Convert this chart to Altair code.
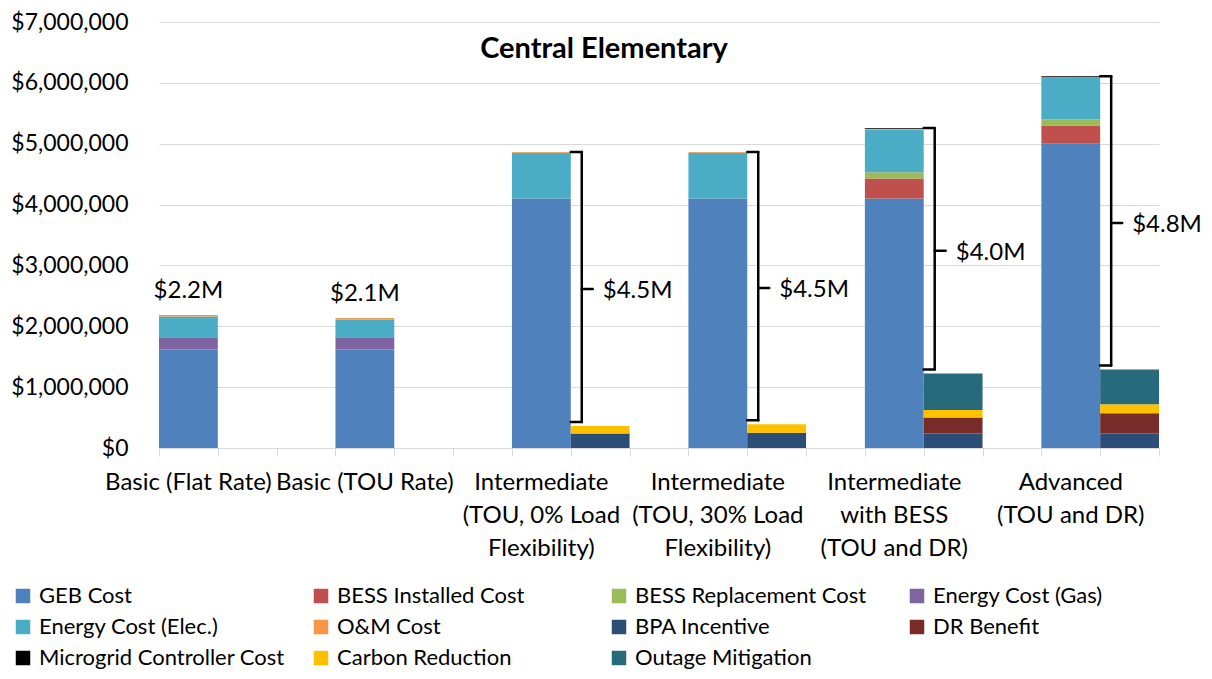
import altair as alt
import pandas as pd

# ---------------- data ----------------
scenarios = [
    "Basic (Flat Rate)",
    "Basic (TOU Rate)",
    "Intermediate\n(TOU, 0% Load\nFlexibility)",
    "Intermediate\n(TOU, 30% Load\nFlexibility)",
    "Intermediate\nwith BESS\n(TOU and DR)",
    "Advanced\n(TOU and DR)",
]

components = [
    "GEB Cost", "BESS Installed Cost", "BESS Replacement Cost", "Energy Cost (Gas)",
    "Energy Cost (Elec.)", "O&M Cost", "BPA Incentive", "DR Benefit",
    "Microgrid Controller Cost", "Carbon Reduction", "Outage Mitigation",
]
component_side = ["cost", "cost", "cost", "cost", "cost", "cost",
                  "benefit", "benefit", "cost", "benefit", "benefit"]
colors = ["#4F81BD", "#C0504D", "#9BBB59", "#8064A2", "#4BACC6", "#F79646",
          "#2C4D75", "#772C2A", "#000000", "#FFC000", "#276A7C"]

geb_cost = [1620000, 1620000, 4100000, 4100000, 4100000, 5000000]
bess_installed = [0, 0, 0, 0, 330000, 300000]
bess_replacement = [0, 0, 0, 0, 100000, 100000]
energy_gas = [200000, 200000, 0, 0, 0, 0]
energy_elec = [340000, 290000, 750000, 750000, 700000, 685000]
om_cost = [25000, 27000, 15000, 15000, 15000, 8000]
bpa_incentive = [0, 0, 240000, 250000, 240000, 240000]
dr_benefit = [0, 0, 0, 0, 260000, 330000]
microgrid_controller = [0, 0, 0, 0, 15000, 15000]
carbon_reduction = [0, 0, 120000, 140000, 125000, 150000]
outage_mitigation = [0, 0, 0, 0, 600000, 570000]

net_labels = ["$2.2M", "$2.1M", "$4.5M", "$4.5M", "$4.0M", "$4.8M"]

chart_title = "Central Elementary"
y_ticks = [0, 1000000, 2000000, 3000000, 4000000, 5000000, 6000000, 7000000]

series = [geb_cost, bess_installed, bess_replacement, energy_gas, energy_elec, om_cost,
          bpa_incentive, dr_benefit, microgrid_controller, carbon_reduction, outage_mitigation]

# ---------------- tables ----------------
n_slots = 3 * len(scenarios) - 1   # cost, benefit, gap per scenario (no trailing gap)

rows = []
for ci, (name, side, vals) in enumerate(zip(components, component_side, series)):
    for g, v in enumerate(vals):
        if v > 0:
            rows.append(dict(scenario=g, component=name, order=ci, value=v,
                             slot=3 * g + (0 if side == "cost" else 1)))
bars_df = pd.DataFrame(rows)

summ = []
for g in range(len(scenarios)):
    cost_total = sum(s[g] for s, side in zip(series, component_side) if side == "cost")
    ben_total = sum(s[g] for s, side in zip(series, component_side) if side == "benefit")
    summ.append(dict(scenario=g, label=net_labels[g], top=cost_total, bottom=ben_total,
                     mid=(cost_total + ben_total) / 2, bx=3 * g + 1, xc=3 * g + 0.5,
                     name=scenarios[g]))
summ_df = pd.DataFrame(summ)
bracket_df = summ_df[summ_df["bottom"] > 0]
toplabel_df = summ_df[summ_df["bottom"] == 0]

FONT = "Lato"
W, H = 1000, 426

xscale = alt.Scale(domain=[0, n_slots], nice=False, zero=False)
yscale = alt.Scale(domain=[0, 7000000], nice=False)

bars = (
    alt.Chart(bars_df)
    .transform_stack(stack="value", groupby=["slot"], as_=["v0", "v1"],
                     sort=[alt.SortField("order", order="ascending")])
    .transform_calculate(slot_end="datum.slot + 1")
    .mark_bar()
    .encode(
        x=alt.X("slot:Q", scale=xscale,
                axis=alt.Axis(values=list(range(n_slots + 1)), labels=False, ticks=True,
                              tickSize=8, tickColor="#D9D9D9", domainColor="#D9D9D9",
                              grid=False, title=None)),
        x2="slot_end:Q",
        y=alt.Y("v0:Q", scale=yscale,
                axis=alt.Axis(values=y_ticks, format="$,.0f", ticks=False, domain=False,
                              labelPadding=31, gridColor="#D9D9D9", gridWidth=1,
                              title=None)),
        y2="v1:Q",
        color=alt.Color(
            "component:N",
            scale=alt.Scale(domain=components, range=colors),
            legend=alt.Legend(
                orient="none", legendX=-147, legendY=563, columns=4, title=None,
                direction="horizontal",
                symbolType="square", symbolSize=210, symbolStrokeWidth=0,
                symbolOpacity=1, labelFont=FONT, labelFontSize=22, labelColor="black",
                labelOffset=5, columnPadding=25, rowPadding=9, gridAlign="all",
                padding=0, labelLimit=500,
            ),
        ),
        order=alt.Order("order:Q"),
    )
)

group_labels = (
    alt.Chart(summ_df)
    .mark_text(align="center", baseline="top", lineBreak="\n", lineHeight=33,
               font=FONT, fontSize=24, color="black")
    .encode(x=alt.X("xc:Q", title=None), y=alt.value(H + 23), text="name:N")
)

top_labels = (
    alt.Chart(toplabel_df)
    .mark_text(align="center", baseline="bottom", dy=-12, font=FONT, fontSize=24,
               color="black")
    .encode(x=alt.X("xc:Q", title=None), y=alt.Y("top:Q", title=None), text="label:N")
)

BR = dict(color="black", strokeWidth=2.5, strokeCap="round")
br_top = alt.Chart(bracket_df).mark_rule(x2Offset=11, **BR).encode(
    x=alt.X("bx:Q", title=None), x2="bx:Q", y=alt.Y("top:Q", title=None))
br_bot = alt.Chart(bracket_df).mark_rule(x2Offset=11, yOffset=-4, **BR).encode(
    x=alt.X("bx:Q", title=None), x2="bx:Q", y=alt.Y("bottom:Q", title=None))
br_vert = alt.Chart(bracket_df).mark_rule(xOffset=11, y2Offset=-4, **BR).encode(
    x=alt.X("bx:Q", title=None), y=alt.Y("top:Q", title=None), y2="bottom:Q")
br_cusp = alt.Chart(bracket_df).mark_rule(xOffset=11, x2Offset=22, **BR).encode(
    x=alt.X("bx:Q", title=None), x2="bx:Q", y=alt.Y("mid:Q", title=None))
br_text = alt.Chart(bracket_df).mark_text(
    align="left", baseline="middle", dx=32, dy=2, font=FONT, fontSize=24, color="black"
).encode(x=alt.X("bx:Q", title=None), y=alt.Y("mid:Q", title=None), text="label:N")

chart = (
    alt.layer(bars, group_labels, top_labels, br_top, br_bot, br_vert, br_cusp, br_text)
    .properties(
        width=W, height=H,
        autosize=alt.AutoSizeParams(type="none"),
        padding={"left": 151, "top": 14, "right": 45, "bottom": 223},
        title=alt.TitleParams(chart_title, font=FONT, fontSize=29, fontWeight="bold",
                              color="black", anchor="middle", frame="group", dx=-55,
                              offset=-53),
    )
    .configure_view(stroke=None)
    .configure_axis(labelFont=FONT, labelFontSize=23, labelColor="black")
)

chart.save("out.html", embed_options={"renderer": "svg", "actions": False})
